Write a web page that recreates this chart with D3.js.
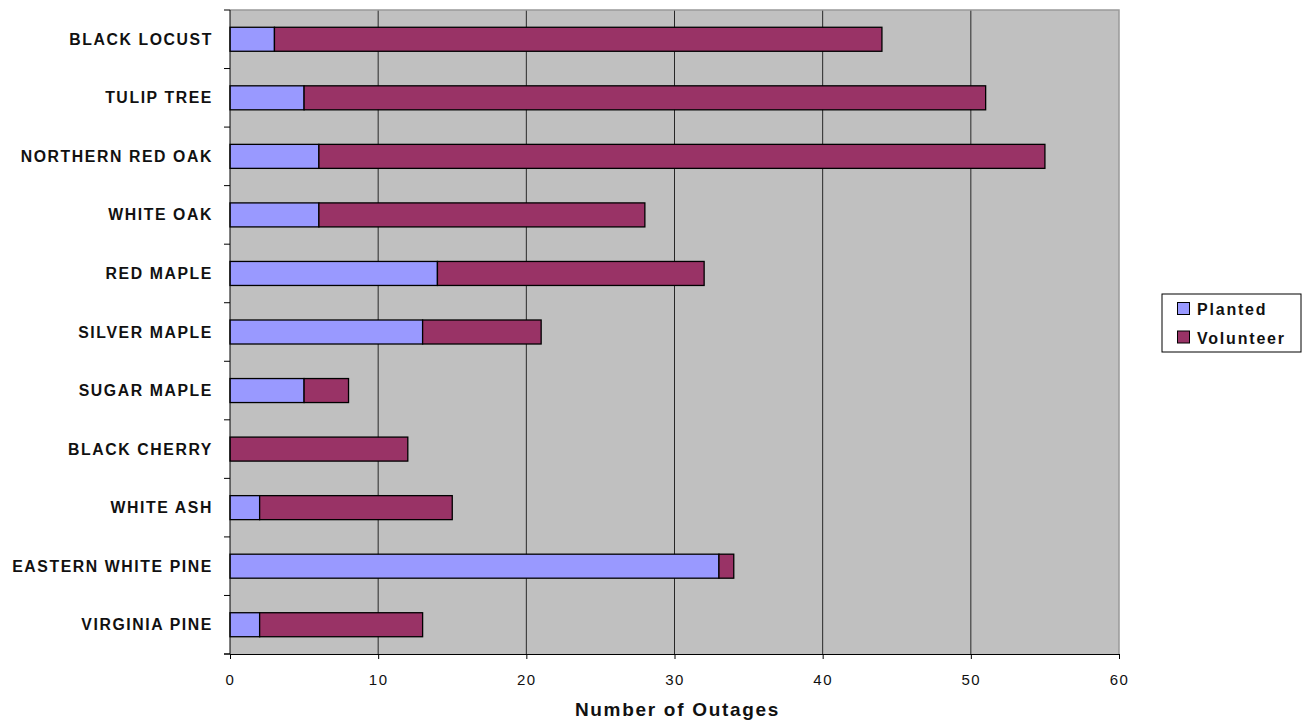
<!DOCTYPE html>
<html>
<head>
<meta charset="utf-8">
<script src="https://cdn.jsdelivr.net/npm/d3@7"></script>
<style>
  body { margin: 0; background: #fff; }
  svg { display: block; font-family: "Liberation Sans", Arial, sans-serif; }
</style>
</head>
<body>
<svg id="chart" width="1311" height="723"></svg>
<script>
// Tree species, top to bottom
const categories = ["BLACK LOCUST", "TULIP TREE", "NORTHERN RED OAK", "WHITE OAK", "RED MAPLE",
  "SILVER MAPLE", "SUGAR MAPLE", "BLACK CHERRY", "WHITE ASH", "EASTERN WHITE PINE", "VIRGINIA PINE"];
// Outage counts per origin
const planted   = [3, 5, 6, 6, 14, 13, 5, 0, 2, 33, 2];
const volunteer = [41, 46, 49, 22, 18, 8, 3, 12, 13, 1, 11];
const seriesNames = ["Planted", "Volunteer"];
const seriesColors = ["#9999FF", "#993366"];
const xTicks = [0, 10, 20, 30, 40, 50, 60];

const svg = d3.select("#chart");
const m = { left: 230, top: 10, right: 1119, bottom: 654 };

const x = d3.scaleLinear().domain([0, 60]).range([m.left, m.right]);
const y = d3.scaleBand().domain(categories).range([m.top, m.bottom]).paddingInner(0.59).paddingOuter(0.295);
const yb = d3.scaleBand().domain(categories).range([m.top, m.bottom]);

// Plot background
svg.append("rect").attr("x", m.left).attr("y", m.top)
  .attr("width", m.right - m.left).attr("height", m.bottom - m.top)
  .attr("fill", "#C0C0C0");

// Vertical gridlines
svg.append("g").selectAll("line").data(xTicks.slice(1, -1)).join("line")
  .attr("x1", d => x(d)).attr("x2", d => x(d))
  .attr("y1", m.top).attr("y2", m.bottom)
  .attr("stroke", "#000").attr("stroke-width", 0.8);

// Top and right border
svg.append("path")
  .attr("d", `M${m.left},${m.top}H${m.right}V${m.bottom}`)
  .attr("fill", "none").attr("stroke", "#999").attr("stroke-width", 1.5);

// Stacked bars
const stackData = categories.map((c, i) => ({ cat: c, Planted: planted[i], Volunteer: volunteer[i] }));
const stack = d3.stack().keys(seriesNames)(stackData);
stack.forEach((layer, li) => {
  svg.append("g").selectAll("rect").data(layer.filter(d => d[1] - d[0] > 0)).join("rect")
    .attr("x", d => x(d[0]))
    .attr("y", d => y(d.data.cat))
    .attr("width", d => x(d[1]) - x(d[0]))
    .attr("height", y.bandwidth())
    .attr("fill", seriesColors[li])
    .attr("stroke", "#000").attr("stroke-width", 1.3);
});

// Y axis: line, category tick marks and labels
svg.append("line").attr("x1", m.left).attr("x2", m.left).attr("y1", m.top).attr("y2", m.bottom)
  .attr("stroke", "#000").attr("stroke-width", 1);
const yEdges = categories.map(c => yb(c)).concat([m.bottom]);
svg.append("g").selectAll("line").data(yEdges).join("line")
  .attr("x1", m.left - 6).attr("x2", m.left).attr("y1", d => d).attr("y2", d => d)
  .attr("stroke", "#000");
svg.append("g").selectAll("text").data(categories).join("text")
  .attr("x", 213).attr("y", d => yb(d) + yb.bandwidth() / 2 + 5.5)
  .attr("text-anchor", "end").attr("font-size", 15.8).attr("font-weight", "bold")
  .attr("letter-spacing", 1.6).attr("fill", "#111")
  .text(d => d);

// X axis
const xAxis = svg.append("g").attr("transform", `translate(0,${m.bottom})`)
  .call(d3.axisBottom(x).tickValues(xTicks).tickSize(5).tickPadding(15).tickSizeOuter(0));
xAxis.select(".domain").attr("stroke", "#000");
xAxis.selectAll("text").attr("font-size", 15).attr("letter-spacing", 1.5)
  .attr("font-family", "Liberation Sans, Arial, sans-serif").attr("fill", "#111");
svg.append("line").attr("x1", m.left - 6).attr("x2", m.left).attr("y1", m.bottom).attr("y2", m.bottom).attr("stroke", "#000");

svg.append("text").attr("x", x(30) + 3).attr("y", 716).attr("text-anchor", "middle")
  .attr("font-size", 19).attr("font-weight", "bold").attr("letter-spacing", 1.7).attr("fill", "#111")
  .text("Number of Outages");

// Legend
const lg = svg.append("g");
lg.append("rect").attr("x", 1162).attr("y", 294).attr("width", 139).attr("height", 58)
  .attr("fill", "#fff").attr("stroke", "#000").attr("stroke-width", 1);
seriesNames.forEach((s, i) => {
  lg.append("rect").attr("x", 1177.5).attr("y", 302.5 + i * 28.5).attr("width", 12).attr("height", 12)
    .attr("fill", seriesColors[i]).attr("stroke", "#000").attr("stroke-width", 1);
  lg.append("text").attr("x", 1197).attr("y", 315 + i * 29)
    .attr("font-size", 16).attr("font-weight", "bold").attr("letter-spacing", 1.8).attr("fill", "#111")
    .text(s);
});
</script>
</body>
</html>
